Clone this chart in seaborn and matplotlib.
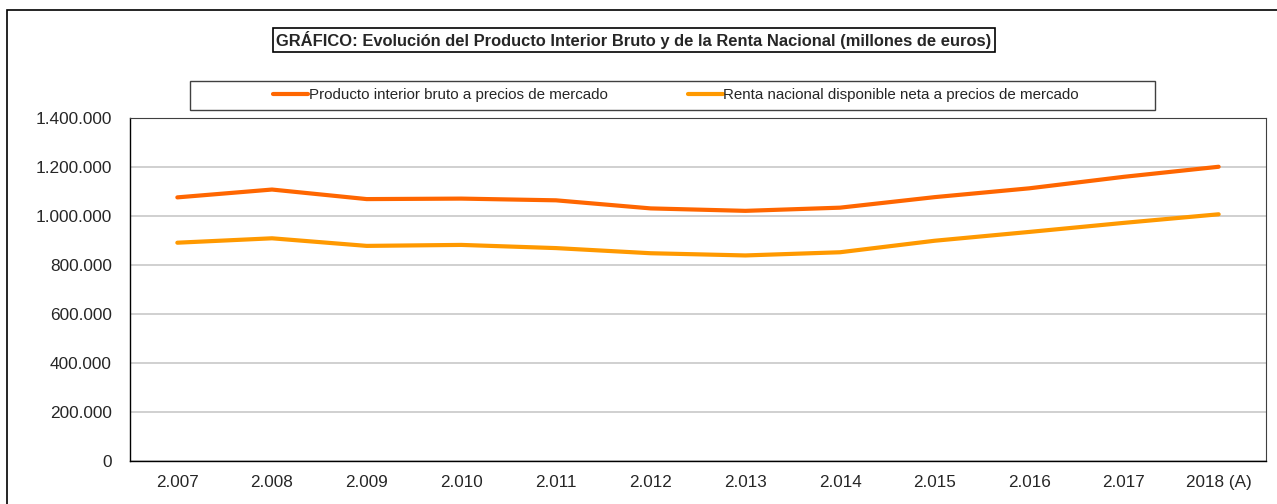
import numpy as np
import pandas as pd
import seaborn as sns
import matplotlib.pyplot as plt
from matplotlib.patches import Rectangle
from matplotlib.ticker import FuncFormatter, FixedLocator

years = ["2.007", "2.008", "2.009", "2.010", "2.011", "2.012",
         "2.013", "2.014", "2.015", "2.016", "2.017", "2018 (A)"]
pib = [1076000, 1108000, 1069000, 1071000, 1064000, 1031000,
       1021000, 1034000, 1077000, 1113000, 1160000, 1201000]
renta = [891000, 909000, 878000, 882000, 869000, 848000,
         839000, 852000, 899000, 935000, 972000, 1007000]
labels = ["Producto interior bruto a precios de mercado",
          "Renta nacional disponible neta a precios de mercado"]
colors = ["#FF6600", "#FF9900"]
title = "GRÁFICO: Evolución del Producto Interior Bruto y de la Renta Nacional (millones de euros)"

df = pd.DataFrame({
    "x": list(range(len(years))) * 2,
    "valor": pib + renta,
    "serie": [labels[0]] * len(pib) + [labels[1]] * len(renta),
})

sns.set_style("white")
plt.rcParams['font.family'] = ['Liberation Sans', 'DejaVu Sans']

W, H = 1277, 504
fig = plt.figure(figsize=(W / 100, H / 100), dpi=100)
ax = fig.add_axes([130 / W, 1 - 461 / H, (1266 - 130) / W, (461 - 118) / H])

sns.lineplot(data=df, x="x", y="valor", hue="serie", palette=colors,
             linewidth=3.0, ax=ax, legend=False)

ax.set_xlim(-0.5, len(years) - 0.5)
ax.set_ylim(0, 1400000)
ax.set_yticks(np.arange(0, 1400001, 200000))
ax.yaxis.set_major_formatter(FuncFormatter(lambda v, p: f"{int(v):,}".replace(",", ".")))
ax.xaxis.set_major_locator(FixedLocator(np.arange(-0.5, len(years), 1.0)))
ax.xaxis.set_minor_locator(FixedLocator(np.arange(len(years))))
ax.set_xticklabels([""] * (len(years) + 1))
ax.set_xticklabels(years, minor=True)
ax.tick_params(axis="x", which="major", direction="out", length=5, width=1, color="black")
ax.tick_params(axis="x", which="minor", length=0, pad=10, labelsize=12.3)
ax.tick_params(axis="y", direction="out", length=5, width=1, color="black", labelsize=12.4, pad=8)
ax.set_xlabel("")
ax.set_ylabel("")
ax.grid(axis="y", color="#c8c8c8", linewidth=1.2)
ax.set_axisbelow(True)
for s in ["left", "bottom"]:
    ax.spines[s].set_color("black")
    ax.spines[s].set_linewidth(1.0)
ax.spines["top"].set_color("#404040")
ax.spines["right"].set_color("#404040")

# outer frame
fig.patches.append(Rectangle((7 / W, -0.1), 1.2, 1 - 10 / H + 0.1, transform=fig.transFigure,
                             fill=False, edgecolor="black", linewidth=1.2))

# title box
fig.text(634 / W, 1 - 40 / H, title, ha="center", va="center", fontsize=11.9,
         fontweight="bold",
         bbox=dict(boxstyle="square,pad=0.2", facecolor="white", edgecolor="black", linewidth=1.2))

# legend box
fig.patches.append(Rectangle((190 / W, 1 - 110 / H), (1155 - 190) / W, 29 / H,
                             transform=fig.transFigure, fill=False, edgecolor="#404040", linewidth=1.0))
handles = [plt.Line2D([], [], color=c, linewidth=3.0) for c in colors]
fig.legend(handles, labels, loc="center", bbox_to_anchor=(676 / W, 1 - 95.5 / H),
           ncol=2, frameon=False, fontsize=10.9, handlelength=2.3, handletextpad=0.05,
           columnspacing=5.3)

fig.savefig("out.png", dpi=100)
